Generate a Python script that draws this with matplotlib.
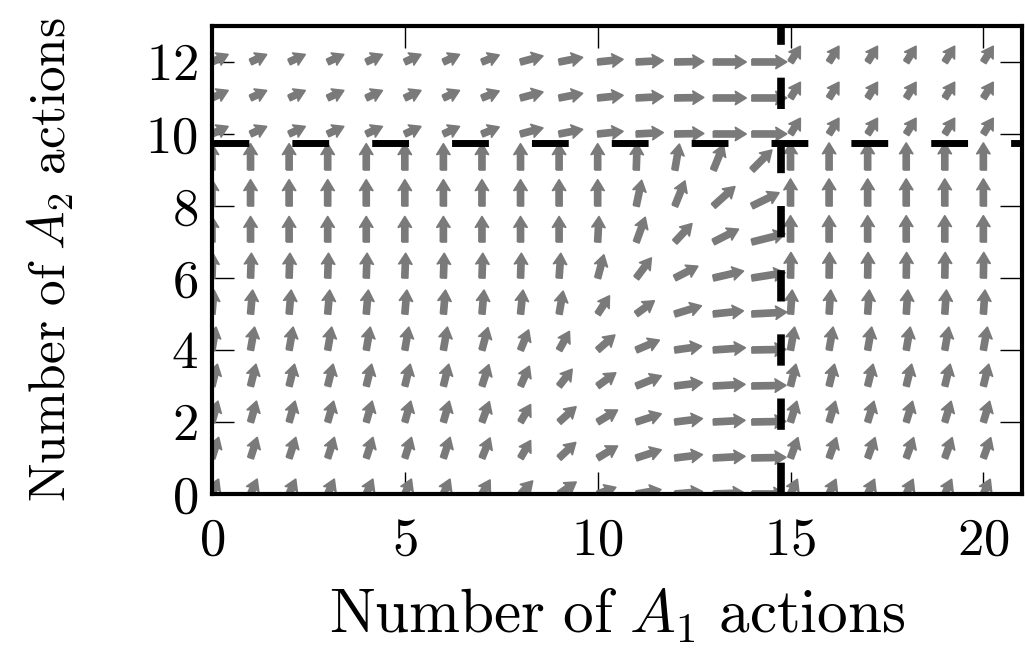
import numpy as np
import matplotlib
matplotlib.use("Agg")
import matplotlib.pyplot as plt

plt.rcParams['mathtext.fontset'] = 'cm'
plt.rcParams['font.family'] = ['cmr10', 'DejaVu Serif']
plt.rcParams['axes.formatter.use_mathtext'] = True

# grid of states
a1_counts = np.arange(0, 21)   # number of A1 actions
a2_counts = np.arange(0, 13)   # number of A2 actions

# threshold lines
a1_threshold = 14.75
a2_threshold = 9.75

# arrow direction (degrees on screen), rows from A2=12 down to A2=0
angle_rows = [
    [25, 25, 25, 25, 25, 25, 25, 22, 15, 11, 6, 3, 1, 0, 0, 58, 58, 58, 58, 58, 58],
    [25, 25, 25, 25, 25, 25, 25, 22, 15, 11, 6, 3, 1, 0, 0, 58, 58, 58, 58, 58, 58],
    [25, 25, 25, 25, 25, 25, 25, 22, 15, 11, 6, 3, 1, 0, 0, 58, 58, 58, 58, 58, 58],
    [90, 90, 90, 90, 90, 90, 90, 90, 90, 90, 90, 88, 80, 68, 45, 90, 90, 90, 90, 90, 90],
    [90, 90, 90, 90, 90, 90, 90, 90, 90, 90, 90, 78, 68, 42, 26, 90, 90, 90, 90, 90, 90],
    [90, 90, 90, 90, 90, 90, 90, 90, 90, 90, 87, 70, 47, 27, 14, 90, 90, 90, 90, 90, 90],
    [88, 88, 88, 88, 88, 88, 88, 88, 88, 86, 75, 53, 27, 13, 9, 89, 89, 89, 89, 89, 89],
    [85, 85, 85, 85, 85, 85, 85, 85, 84, 80, 57, 36, 17, 6, 3, 86, 86, 86, 86, 86, 86],
    [80, 80, 80, 80, 80, 80, 80, 75, 68, 61, 41, 23, 8, 4, 1, 80, 80, 80, 80, 80, 80],
    [76, 76, 76, 76, 76, 76, 76, 72, 66, 52, 36, 22, 7, 3, 1, 76, 76, 76, 76, 76, 76],
    [74, 74, 74, 74, 74, 74, 74, 70, 60, 42, 31, 18, 7, 3, 1, 73, 73, 73, 73, 73, 73],
    [72, 72, 72, 72, 72, 72, 72, 68, 60, 43, 31, 18, 7, 3, 1, 70, 70, 70, 70, 70, 70],
    [66, 66, 66, 66, 66, 66, 66, 60, 47, 35, 20, 10, 5, 2, 0, 65, 65, 65, 65, 65, 65],
]

# arrow magnitude (in A1 units), same row order
length_rows = [
    [0.46, 0.46, 0.46, 0.46, 0.46, 0.46, 0.46, 0.48, 0.6, 0.62, 0.66, 0.7, 0.75, 0.85, 0.9, 0.48, 0.48, 0.48, 0.48, 0.48, 0.48],
    [0.46, 0.46, 0.46, 0.46, 0.46, 0.46, 0.46, 0.48, 0.6, 0.62, 0.66, 0.7, 0.75, 0.85, 0.9, 0.48, 0.48, 0.48, 0.48, 0.48, 0.48],
    [0.46, 0.46, 0.46, 0.46, 0.46, 0.46, 0.46, 0.48, 0.6, 0.62, 0.66, 0.7, 0.75, 0.85, 0.9, 0.48, 0.48, 0.48, 0.48, 0.48, 0.48],
    [0.68, 0.68, 0.68, 0.68, 0.68, 0.68, 0.68, 0.68, 0.68, 0.68, 0.68, 0.68, 0.68, 0.7, 0.73, 0.7, 0.7, 0.7, 0.7, 0.7, 0.7],
    [0.68, 0.68, 0.68, 0.68, 0.68, 0.68, 0.68, 0.68, 0.68, 0.68, 0.68, 0.68, 0.7, 0.75, 0.78, 0.7, 0.7, 0.7, 0.7, 0.7, 0.7],
    [0.66, 0.66, 0.66, 0.66, 0.66, 0.66, 0.66, 0.66, 0.66, 0.66, 0.66, 0.68, 0.65, 0.73, 0.88, 0.68, 0.68, 0.68, 0.68, 0.68, 0.68],
    [0.64, 0.64, 0.64, 0.64, 0.64, 0.64, 0.64, 0.64, 0.64, 0.64, 0.62, 0.65, 0.67, 0.8, 0.87, 0.66, 0.66, 0.66, 0.66, 0.66, 0.66],
    [0.62, 0.62, 0.62, 0.62, 0.62, 0.62, 0.62, 0.62, 0.62, 0.6, 0.56, 0.58, 0.72, 0.78, 0.9, 0.62, 0.62, 0.62, 0.62, 0.62, 0.62],
    [0.6, 0.6, 0.6, 0.6, 0.6, 0.6, 0.6, 0.6, 0.56, 0.55, 0.59, 0.65, 0.7, 0.83, 0.88, 0.6, 0.6, 0.6, 0.6, 0.6, 0.6],
    [0.58, 0.58, 0.58, 0.58, 0.58, 0.58, 0.58, 0.58, 0.56, 0.55, 0.58, 0.7, 0.72, 0.82, 0.88, 0.58, 0.58, 0.58, 0.58, 0.58, 0.58],
    [0.56, 0.56, 0.56, 0.56, 0.56, 0.56, 0.56, 0.56, 0.52, 0.59, 0.6, 0.68, 0.72, 0.82, 0.88, 0.56, 0.56, 0.56, 0.56, 0.56, 0.56],
    [0.56, 0.56, 0.56, 0.56, 0.56, 0.56, 0.56, 0.56, 0.52, 0.59, 0.6, 0.68, 0.72, 0.82, 0.88, 0.56, 0.56, 0.56, 0.56, 0.56, 0.56],
    [0.42, 0.42, 0.42, 0.42, 0.42, 0.42, 0.42, 0.42, 0.46, 0.54, 0.5, 0.65, 0.72, 0.8, 0.85, 0.42, 0.42, 0.42, 0.42, 0.42, 0.42],
]

x_ticks = [0, 5, 10, 15, 20]
y_ticks = [0, 2, 4, 6, 8, 10, 12]

angles = np.flipud(np.array(angle_rows, dtype=float))
lengths = np.flipud(np.array(length_rows, dtype=float))
X, Y = np.meshgrid(a1_counts, a2_counts)

fig = plt.figure(figsize=(10.25, 6.51), dpi=100)
ax = fig.add_axes([0.2068, 0.2412, 0.7902, 0.7189])

arrow_grey = '#7a7a7a'
ax.quiver(X, Y, lengths, np.zeros_like(lengths), angles=angles,
          scale_units='x', scale=1, units='dots', width=6,
          headwidth=2.2, headlength=1.8, headaxislength=1.6,
          color=arrow_grey, edgecolor=arrow_grey, linewidth=1.2,
          pivot='tail', zorder=2)

ax.axhline(a2_threshold, color='black', lw=5, linestyle=(0, (5.3, 6.2)), zorder=3)
ax.axvline(a1_threshold, color='black', lw=5.5, linestyle=(0, (4.1, 4.3)), zorder=3)

ax.set_xlim(0, 21)
ax.set_ylim(0, 13)
ax.set_xticks(x_ticks)
ax.set_yticks(y_ticks)
ax.tick_params(direction='in', length=16, width=1, top=True, right=True,
               labelsize=38)
ax.tick_params(axis='x', pad=17)
ax.tick_params(axis='y', pad=10)
for sp in ax.spines.values():
    sp.set_linewidth(3)
    sp.set_zorder(4)

ax.set_xlabel(r'$\mathrm{Number\ of\ }A_1\mathrm{\ actions}$', fontsize=44, labelpad=16)
ax.set_ylabel(r'$\mathrm{Number\ of\ }A_2\mathrm{\ actions}$', fontsize=37, labelpad=50)

fig.savefig('out.png', dpi=100)
